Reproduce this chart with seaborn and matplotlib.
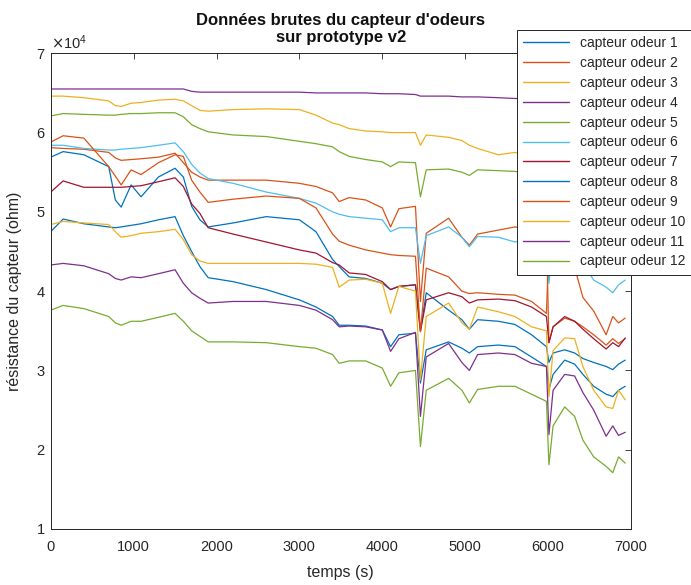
import numpy as np
import pandas as pd
import seaborn as sns
import matplotlib.pyplot as plt
from matplotlib.lines import Line2D
from matplotlib.ticker import ScalarFormatter

# temps de mesure (s)
temps = [0, 150, 400, 700, 780, 850, 970, 1090, 1300, 1500, 1600, 1700, 1800, 1900,
         2200, 2600, 3000, 3200, 3400, 3480, 3600, 3800, 4000, 4100, 4200, 4400,
         4460, 4530, 4800, 4960, 5050, 5150, 5400, 5600, 5800, 5980, 6010, 6060,
         6200, 6320, 6420, 6550, 6700, 6780, 6850, 6930]

# résistance (ohm)
capteur_1 = [56900, 57600, 57200, 55700, 51500, 50600, 53400, 51900, 54400, 55500, 54400, 50700,
             49000, 48100, 48600, 49400, 49000, 47500, 44000, 43100, 41800, 41600, 41000, 40200,
             40600, 40800, 35000, 39800, 37600, 36400, 35200, 36400, 36200, 35800, 34500, 33000,
             31000, 32200, 32600, 32200, 31500, 31000, 30500, 30100, 30800, 31300]
capteur_2 = [58100, 58000, 57900, 57500, 56800, 56500, 56600, 56700, 56900, 57400, 56200, 55000,
             54400, 54000, 54000, 54000, 53600, 53200, 52400, 51300, 51800, 51500, 50500, 48100,
             50400, 50700, 38700, 47300, 49200, 46800, 45800, 47200, 47700, 48100, 47800, 47500,
             33500, 35500, 36600, 36200, 35500, 34500, 33200, 34000, 33400, 34000]
capteur_3 = [64600, 64600, 64400, 64000, 63400, 63300, 63700, 63800, 64100, 64200, 64000, 63400,
             62800, 62700, 62900, 63000, 62900, 62200, 61200, 61000, 60500, 60200, 60100, 60000,
             60000, 60000, 58400, 59700, 59400, 59000, 58400, 58000, 57200, 57500, 57000, 56800,
             56000, 56600, 56500, 56200, 55500, 55000, 54800, 54700, 54600, 54500]
capteur_4 = [65500, 65500, 65500, 65500, 65500, 65500, 65500, 65500, 65500, 65500, 65500, 65200,
             65100, 65100, 65100, 65100, 65100, 65000, 65000, 65000, 65000, 65000, 64900, 64900,
             64900, 64800, 64600, 64600, 64600, 64500, 64500, 64500, 64400, 64300, 64300, 64200,
             64000, 64100, 64100, 64100, 64000, 64000, 64000, 64000, 64000, 64000]
capteur_5 = [62100, 62400, 62300, 62200, 62200, 62300, 62400, 62400, 62500, 62500, 62000, 61000,
             60500, 60100, 59700, 59500, 58900, 58600, 58200, 57600, 57000, 56600, 56300, 55700,
             56300, 56200, 51900, 55300, 55400, 55000, 54600, 55300, 55200, 55100, 54800, 54500,
             52000, 54000, 54200, 53800, 53300, 52800, 52500, 52200, 52400, 52200]
capteur_6 = [58400, 58400, 58000, 57800, 57800, 57900, 58000, 58100, 58400, 58700, 57600, 56000,
             54900, 54200, 53600, 52500, 51700, 51100, 50000, 49700, 49400, 49200, 49000, 47500,
             48000, 48000, 43500, 47000, 48100, 46800, 45600, 46900, 46800, 46200, 46500, 46000,
             41000, 45500, 45800, 45000, 43500, 41400, 40500, 39800, 40800, 41400]
capteur_7 = [52500, 53900, 53100, 53100, 53100, 53100, 53200, 53300, 53800, 54300, 53200, 51000,
             49800, 48000, 47200, 46200, 45200, 44800, 43600, 43300, 42300, 42100, 41200, 40200,
             40600, 40800, 34900, 38900, 39800, 39300, 38500, 38900, 39000, 38800, 38000, 36800,
             33500, 35500, 36800, 36200, 35200, 34000, 32700, 33500, 33000, 34100]
capteur_8 = [47500, 49100, 48500, 48100, 48000, 48100, 48300, 48500, 49000, 49400, 47000, 45000,
             43100, 41700, 41200, 40200, 38900, 38000, 36800, 35700, 35700, 35600, 35100, 33000,
             34500, 34700, 28400, 32600, 33600, 32800, 32200, 33000, 33200, 33000, 31700, 30500,
             27600, 29500, 31300, 30800, 29500, 28000, 27000, 26700, 27500, 28000]
capteur_9 = [58800, 59600, 59300, 55700, 54500, 53400, 55300, 54700, 56200, 57200, 57000, 54000,
             52500, 51200, 51600, 52000, 51700, 50500, 47200, 46300, 45800, 45200, 44800, 44600,
             44500, 44400, 34900, 42900, 41800, 40000, 39700, 39800, 39600, 39500, 38700, 37200,
             46000, 45500, 45500, 43000, 39200, 37500, 34500, 36800, 36000, 36600]
capteur_10 = [48400, 48800, 48600, 48400, 47500, 46800, 47000, 47300, 47500, 47800, 46500, 44600,
              43800, 43500, 43500, 43500, 43500, 43400, 43000, 40500, 41400, 41500, 41000, 37200,
              40600, 40000, 28800, 36800, 38500, 36000, 35200, 38000, 37400, 36800, 35500, 35000,
              26700, 32500, 34100, 34000, 30500, 27500, 25400, 25200, 27500, 26300]
capteur_11 = [43300, 43500, 43200, 42200, 41600, 41400, 41800, 41700, 42200, 42700, 41000, 39800,
              39100, 38500, 38700, 38700, 38200, 37600, 36400, 35500, 35600, 35500, 35100, 32400,
              34000, 34800, 24200, 31700, 33400, 31000, 30000, 32000, 32200, 32000, 30900, 30500,
              21900, 27500, 29500, 29300, 27200, 25000, 21700, 23000, 21800, 22200]
capteur_12 = [37600, 38200, 37800, 36800, 36000, 35700, 36200, 36200, 36700, 37200, 36200, 35000,
              34300, 33600, 33600, 33500, 33000, 32800, 32000, 30900, 31200, 31200, 30300, 28000,
              29700, 30000, 20400, 27500, 29000, 27500, 25900, 27600, 28000, 28000, 27000, 26100,
              18100, 23000, 25400, 24200, 21200, 19100, 17900, 17100, 19100, 18300]

series = [capteur_1, capteur_2, capteur_3, capteur_4, capteur_5, capteur_6,
          capteur_7, capteur_8, capteur_9, capteur_10, capteur_11, capteur_12]
noms = ['capteur odeur %d' % (i + 1) for i in range(12)]

# couleurs par défaut de MATLAB (cycle de 7)
couleurs_matlab = ['#0072BD', '#D95319', '#EDB120', '#7E2F8E', '#77AC30', '#4DBEEE', '#A2142F']
palette = {nom: couleurs_matlab[i % 7] for i, nom in enumerate(noms)}

# tableau long pour seaborn
df = pd.concat([pd.DataFrame({'temps': temps, 'resistance': s, 'capteur': nom})
                for nom, s in zip(noms, series)], ignore_index=True)

sns.set_style('white')
plt.rcParams['font.family'] = ['Liberation Sans', 'DejaVu Sans']
gris = '#262626'

fig = plt.figure(figsize=(6.91, 5.85), dpi=100)
ax = fig.add_axes([50.7 / 691, 1 - 529 / 585, (631 - 50.7) / 691, (529 - 53.3) / 585])

sns.lineplot(data=df, x='temps', y='resistance', hue='capteur', hue_order=noms,
             palette=palette, linewidth=0.9, legend=False, ax=ax, sort=False)

ax.set_xlim(0, 7000)
ax.set_ylim(10000, 70000)
ax.set_xticks(np.arange(0, 7001, 1000))
ax.set_yticks(np.arange(10000, 70001, 10000))

fmt = ScalarFormatter(useMathText=True)
fmt.set_powerlimits((0, 0))
ax.yaxis.set_major_formatter(fmt)
ax.yaxis.get_offset_text().set_fontsize(10.5)
ax.yaxis.get_offset_text().set_color(gris)

ax.tick_params(direction='in', top=True, right=True, length=4, width=0.6,
               labelsize=10.5, colors=gris, labelcolor=gris)
ax.tick_params(axis='x', pad=8)
for sp in ax.spines.values():
    sp.set_color(gris)
    sp.set_linewidth(0.7)

ax.set_xlabel('temps (s)', fontsize=11.5, color=gris, labelpad=8)
ax.set_ylabel('résistance du capteur (ohm)', fontsize=11.5, color=gris, labelpad=10)
ax.set_title("Données brutes du capteur d'odeurs\nsur prototype v2",
             fontsize=12, fontweight='bold', color='#111111', pad=8)

handles = [Line2D([0], [0], color=palette[n], lw=1.0) for n in noms]
leg = fig.legend(handles, noms, loc='upper left', bbox_to_anchor=(517 / 691, 1 - 30 / 585),
                 bbox_transform=fig.transFigure, fontsize=10, frameon=True, fancybox=False,
                 framealpha=1, edgecolor=gris, handlelength=3.3, labelspacing=0.42,
                 borderpad=0.45, handletextpad=0.8, borderaxespad=0)
leg.get_frame().set_linewidth(0.7)
for t in leg.get_texts():
    t.set_color(gris)

fig.savefig('out.png', dpi=100)
